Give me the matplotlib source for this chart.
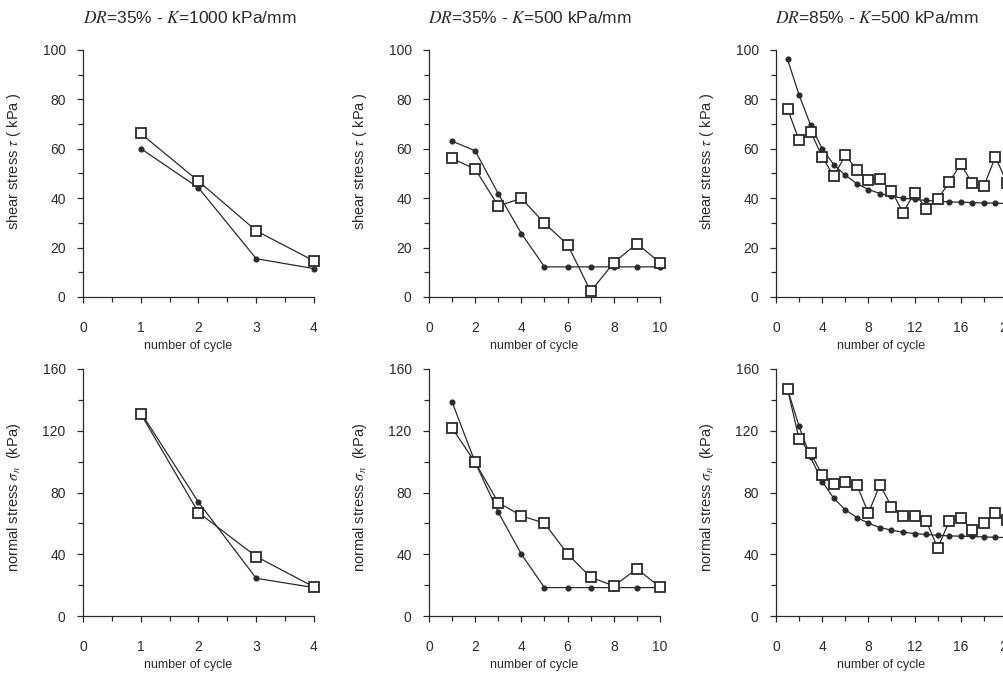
import matplotlib
matplotlib.use('Agg')
import matplotlib.pyplot as plt
from matplotlib.ticker import MultipleLocator

plt.rcParams['font.family'] = ['Liberation Sans', 'DejaVu Sans']
plt.rcParams['mathtext.fontset'] = 'stix'

# cycles 1..N for each test
cyc_a = [1, 2, 3, 4]
cyc_b = [1, 2, 3, 4, 5, 6, 7, 8, 9, 10]
cyc_c = list(range(1, 21))

# shear stress (kPa): squares = measured, dots = model
tau_sq_a = [66.2, 46.9, 26.8, 14.6]
tau_dot_a = [60.1, 44.2, 15.5, 11.5]
tau_sq_b = [56.1, 51.8, 36.9, 39.9, 29.9, 21.2, 2.3, 13.9, 21.6, 13.9]
tau_dot_b = [63.1, 59.2, 41.8, 25.7, 12.2, 12.2, 12.2, 12.2, 12.2, 12.2]
tau_sq_c = [76.1, 63.5, 66.9, 56.8, 48.9, 57.4, 51.6, 47.3, 47.7, 43.0,
            34.2, 42.2, 35.8, 39.5, 46.6, 53.8, 46.0, 44.9, 56.8, 46.0]
tau_dot_c = [96.2, 81.8, 69.5, 60.0, 53.6, 49.3, 45.9, 43.5, 41.9, 40.8,
             40.0, 39.5, 39.1, 38.8, 38.5, 38.4, 38.2, 38.1, 38.0, 37.8]

# normal stress (kPa)
sig_sq_a = [131.0, 67.0, 38.5, 18.8]
sig_dot_a = [131.9, 73.7, 24.4, 18.4]
sig_sq_b = [121.7, 99.5, 73.5, 64.9, 60.1, 40.2, 25.1, 19.5, 30.5, 18.8]
sig_dot_b = [138.6, 99.5, 67.2, 40.0, 18.4, 18.4, 18.4, 18.4, 18.4, 18.4]
sig_sq_c = [147.0, 114.6, 105.5, 91.5, 85.6, 87.1, 85.0, 66.6, 85.0, 70.9,
            64.9, 64.9, 61.8, 43.9, 61.5, 63.2, 55.7, 60.3, 66.5, 62.0]
sig_dot_c = [147.0, 122.8, 102.7, 87.1, 76.3, 68.8, 63.8, 60.1, 57.3, 55.6,
             54.3, 53.4, 52.8, 52.3, 51.9, 51.7, 51.5, 51.2, 51.0, 50.8]

title_tex = [r'$DR$=35% - $K$=1000 kPa/mm', r'$DR$=35% - $K$=500 kPa/mm',
             r'$DR$=85% - $K$=500 kPa/mm']

ink = '#2b2b2b'
W, H = 1004, 675
fig = plt.figure(figsize=(W / 100, H / 100), dpi=100)

lefts = [83, 429, 776]
width = 231
rows = [(297, 'tau'), (616, 'sig')]
xsets = [(cyc_a, 4, 1, 0.5), (cyc_b, 10, 2, 1), (cyc_c, 20, 4, 2)]
series = {
    'tau': [(tau_sq_a, tau_dot_a), (tau_sq_b, tau_dot_b), (tau_sq_c, tau_dot_c)],
    'sig': [(sig_sq_a, sig_dot_a), (sig_sq_b, sig_dot_b), (sig_sq_c, sig_dot_c)],
}

for bottom_px, kind in rows:
    for j, left_px in enumerate(lefts):
        ax = fig.add_axes([left_px / W, 1 - bottom_px / H, width / W, 247 / H])
        x, xmax, xmaj, xmin = xsets[j]
        sq, dot = series[kind][j]
        ax.plot(x, dot, '-o', color=ink, lw=0.9, ms=3.4, clip_on=False, zorder=3)
        ax.plot(x, sq, '-s', color=ink, lw=0.9, ms=7.5, mfc='white', mec=ink,
                mew=1.3, clip_on=False, zorder=4)
        ax.set_xlim(0, xmax)
        ax.xaxis.set_major_locator(MultipleLocator(xmaj))
        ax.xaxis.set_minor_locator(MultipleLocator(xmin))
        if kind == 'tau':
            ax.set_ylim(0, 100)
            ax.yaxis.set_major_locator(MultipleLocator(20))
            ax.yaxis.set_minor_locator(MultipleLocator(10))
            ax.set_ylabel(r'shear stress $\tau$ ( kPa )', fontsize=10.5, color=ink)
            ax.yaxis.set_label_coords(-0.26, 0.55)
        else:
            ax.set_ylim(0, 160)
            ax.yaxis.set_major_locator(MultipleLocator(40))
            ax.yaxis.set_minor_locator(MultipleLocator(20))
            ax.set_ylabel(r'normal stress $\sigma_n$  (kPa)', fontsize=10.5, color=ink)
            ax.yaxis.set_label_coords(-0.26, 0.48)
        ax.set_xlabel('number of cycle', fontsize=9, color=ink, va='center')
        ax.xaxis.set_label_coords(0.455, -0.198)
        for side in ('top', 'right'):
            ax.spines[side].set_visible(False)
        for side in ('left', 'bottom'):
            ax.spines[side].set_color(ink)
            ax.spines[side].set_linewidth(0.9)
        ax.tick_params(which='both', direction='out', color=ink, width=0.9,
                       labelsize=10, labelcolor=ink)
        ax.tick_params(which='major', length=4.5)
        ax.tick_params(which='minor', length=3.5)
        ax.tick_params(axis='x', which='major', pad=13)
        ax.tick_params(axis='y', which='major', pad=8)

title_x = [190, 530, 877]
for tx, t in zip(title_x, title_tex):
    fig.text(tx / W, 1 - 18 / H, t, ha='center', va='center', fontsize=12.5, color=ink)

fig.savefig('out.png', dpi=100)
